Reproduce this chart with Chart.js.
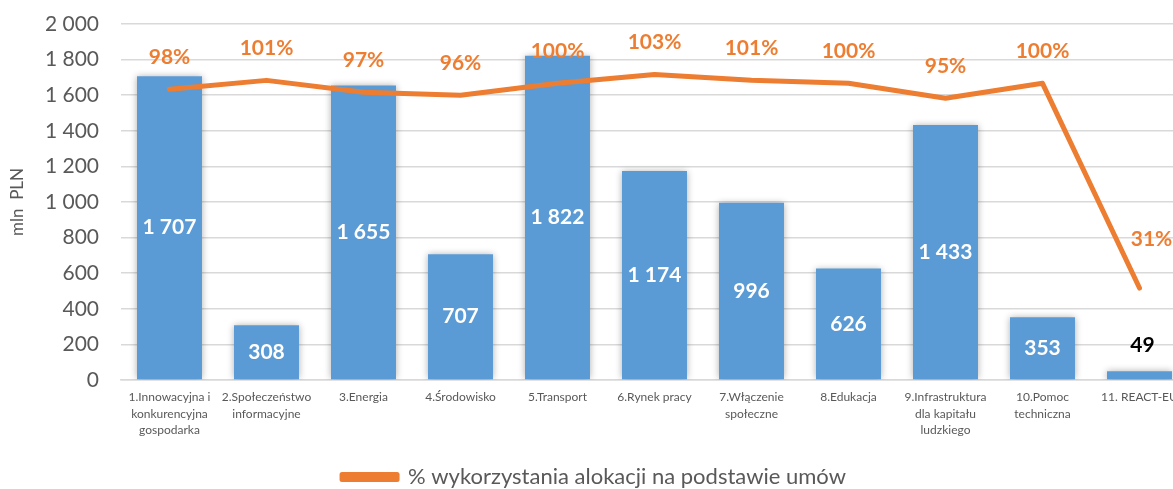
<!DOCTYPE html>
<html>
<head>
<meta charset="utf-8">
<script src="https://cdn.jsdelivr.net/npm/chart.js@4"></script>
<style>
  html, body { margin: 0; padding: 0; background: #fff; overflow: hidden; }
</style>
</head>
<body>
<canvas id="alokacjaChart" width="1252" height="489"></canvas>
<script>
// osie priorytetowe RPO
const categories = [
  ["1.Innowacyjna i", "konkurencyjna", "gospodarka"],
  ["2.Społeczeństwo", "informacyjne"],
  ["3.Energia"],
  ["4.Środowisko"],
  ["5.Transport"],
  ["6.Rynek pracy"],
  ["7.Włączenie", "społeczne"],
  ["8.Edukacja"],
  ["9.Infrastruktura", "dla kapitału", "ludzkiego"],
  ["10.Pomoc", "techniczna"],
  ["11. REACT-EU"]
];
// wartość umów, mln PLN
const amounts = [1707, 308, 1655, 707, 1822, 1174, 996, 626, 1433, 353, 49];
// % wykorzystania alokacji
const usage = [98, 101, 97, 96, 100, 103, 101, 100, 95, 100, 31];
const yTicks = [0, 200, 400, 600, 800, 1000, 1200, 1400, 1600, 1800, 2000];

const BLUE = "#5B9BD5";
const ORANGE = "#ED7D31";
const GREY = "#595959";
const FONT = "Lato, 'Open Sans', sans-serif";

function spaced(n) {
  return String(n).replace(/\B(?=(\d{3})+(?!\d))/g, " ");
}

const barShadow = {
  id: "barShadow",
  beforeDatasetDraw(chart, args) {
    if (args.meta.type !== "bar") return;
    const ctx = chart.ctx;
    ctx.save();
    ctx.shadowColor = "rgba(0,0,0,0.32)";
    ctx.shadowBlur = 7;
  },
  afterDatasetDraw(chart, args) {
    if (args.meta.type !== "bar") return;
    chart.ctx.restore();
  }
};

const valueLabels = {
  id: "valueLabels",
  afterDatasetsDraw(chart) {
    const ctx = chart.ctx;
    ctx.save();
    ctx.textAlign = "center";
    ctx.textBaseline = "middle";

    // kwoty na słupkach
    const bars = chart.getDatasetMeta(1).data;
    ctx.font = "bold 21px " + FONT;
    bars.forEach((bar, i) => {
      const h = bar.base - bar.y;
      if (h > 30) {
        ctx.fillStyle = "#fff";
        ctx.fillText(spaced(amounts[i]), bar.x, (bar.y + bar.base) / 2);
      } else {
        ctx.fillStyle = "#000";
        ctx.fillText(spaced(amounts[i]), bar.x + 3, bar.y - 26);
      }
    });

    // procenty nad linią
    const pts = chart.getDatasetMeta(0).data;
    ctx.font = "bold 21px " + FONT;
    ctx.fillStyle = ORANGE;
    pts.forEach((p, i) => {
      let x = p.x, y = p.y - 32;
      if (i === pts.length - 1) { x += 12; y = p.y - 49; }
      ctx.fillText(usage[i] + "%", x, y);
    });
    ctx.restore();
  }
};

new Chart(document.getElementById("alokacjaChart"), {
  data: {
    labels: categories,
    datasets: [
      {
        type: "line",
        label: "% wykorzystania alokacji na podstawie umów",
        data: usage,
        yAxisID: "yPct",
        borderColor: ORANGE,
        backgroundColor: ORANGE,
        borderWidth: 5,
        borderCapStyle: "round",
        borderJoinStyle: "round",
        pointRadius: 0,
        tension: 0,
        order: 0
      },
      {
        type: "bar",
        label: "mln PLN",
        data: amounts,
        yAxisID: "y",
        backgroundColor: BLUE,
        barPercentage: 0.67,
        categoryPercentage: 1,
        order: 1
      }
    ]
  },
  options: {
    responsive: false,
    animation: false,
    layout: { padding: { top: 24, right: 64, left: 0, bottom: 0 } },
    plugins: {
      tooltip: { enabled: false },
      legend: {
        position: "bottom",
        maxHeight: 25,
        labels: {
          filter: item => item.datasetIndex === 0,
          boxWidth: 55,
          boxHeight: 5,
          color: GREY,
          padding: 2,
          font: { family: FONT, size: 22 }
        }
      }
    },
    scales: {
      x: {
        grid: { display: false, drawTicks: false },
        border: { display: true, color: "#d9d9d9", width: 1.5 },
        ticks: {
          color: GREY,
          padding: 9,
          maxRotation: 0,
          autoSkip: false,
          font: { family: FONT, size: 12, lineHeight: 1.38 }
        },
        afterFit: s => { s.height = 84; }
      },
      y: {
        min: 0,
        max: 2000,
        afterBuildTicks: s => { s.ticks = yTicks.map(v => ({ value: v })); },
        // niewidoczne znaczniki odsuwają etykiety od osi
        grid: { color: "#d9d9d9", lineWidth: 1.5, drawTicks: true, tickLength: 22, tickColor: "rgba(0,0,0,0)" },
        border: { display: false },
        ticks: {
          color: GREY,
          padding: 0,
          font: { family: FONT, size: 21 },
          callback: v => spaced(v)
        },
        title: {
          display: true,
          text: "mln  PLN",
          color: GREY,
          padding: { top: 7, bottom: 0 },
          font: { family: FONT, size: 17 }
        },
        afterFit: s => { s.width = 121; }
      },
      yPct: {
        display: false,
        min: 0,
        max: 120
      }
    }
  },
  plugins: [barShadow, valueLabels]
});
</script>
</body>
</html>
